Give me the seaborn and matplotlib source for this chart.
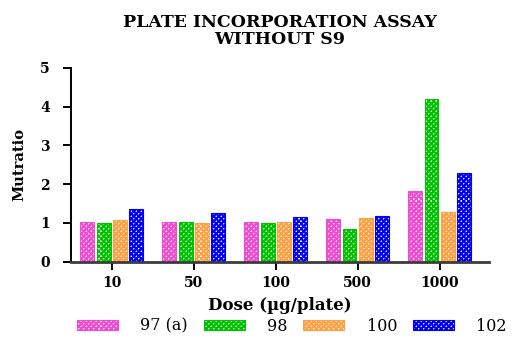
import numpy as np
import pandas as pd
import matplotlib
matplotlib.use("Agg")
import matplotlib.pyplot as plt
import matplotlib.hatch as mhatch
from matplotlib.path import Path
from matplotlib.patches import Patch
import seaborn as sns


# Checkerboard fill used for the bars: '*' characters set the cell count.
class Checker(mhatch.HatchPatternBase):
    filled = True

    def __init__(self, hatch, density):
        self.n = hatch.count('*') * 10
        self.num_vertices = (self.n * self.n // 2) * 5

    def set_vertices_and_codes(self, vertices, codes):
        n = self.n
        step = 1.0 / n
        square = np.array([[0, 0], [1, 0], [1, 1], [0, 1], [0, 0]], float) * step
        sq_codes = [Path.MOVETO, Path.LINETO, Path.LINETO, Path.LINETO, Path.CLOSEPOLY]
        vs, cs = [], []
        for i in range(n):
            for j in range(n):
                if (i + j) % 2 == 0:
                    vs.append(square + [i * step, j * step])
                    cs.extend(sq_codes)
        vertices[:] = np.concatenate(vs)
        codes[:] = cs


mhatch._hatch_types = [t for t in mhatch._hatch_types if t is not mhatch.Stars] + [Checker]

doses = ["10", "50", "100", "500", "1000"]
strains = ["97 (a)", "98", "100", "102"]
ratio_97a = [1.02, 1.03, 1.02, 1.09, 1.83]
ratio_98 = [1.00, 1.02, 1.00, 0.84, 4.20]
ratio_100 = [1.08, 1.00, 1.03, 1.13, 1.28]
ratio_102 = [1.36, 1.26, 1.15, 1.19, 2.28]
colors = ["#F04CD2", "#00C400", "#FFA142", "#0000F5"]

df = pd.DataFrame({
    "dose": doses * 4,
    "strain": np.repeat(strains, len(doses)),
    "ratio": ratio_97a + ratio_98 + ratio_100 + ratio_102,
})

sns.set_style("ticks")
plt.rcParams["font.family"] = ["DejaVu Serif"]
plt.rcParams["hatch.linewidth"] = 0.8
plt.rcParams["text.color"] = "black"
plt.rcParams["axes.labelcolor"] = "black"
plt.rcParams["xtick.color"] = "black"
plt.rcParams["ytick.color"] = "black"

fig = plt.figure(figsize=(5.13, 3.38), dpi=100)
ax = fig.add_axes([0.138, 0.2257, 0.815, 0.5733])

sns.barplot(data=df, x="dose", y="ratio", hue="strain", order=doses,
            hue_order=strains, palette=colors, width=0.8, gap=0.15,
            errorbar=None, legend=False, ax=ax)

for cont, col in zip(ax.containers, colors):
    for bar in cont:
        bar.set_facecolor("white")
        bar.set_edgecolor(col)
        bar.set_linewidth(0.8)
        bar.set_hatch("****")

ax.set_xlim(-0.5, 4.6)
ax.set_ylim(0, 5)
ax.set_yticks([0, 1, 2, 3, 4, 5])
sns.despine(ax=ax)
ax.spines["left"].set_linewidth(1.4)
ax.spines["left"].set_color("black")
ax.spines["bottom"].set_linewidth(2.0)
ax.spines["bottom"].set_color("#3c3c3c")
ax.tick_params(axis="y", length=6, width=1.4, color="black", pad=9)
ax.tick_params(axis="x", length=6, width=1.4, color="black", pad=4)
for lab in ax.get_xticklabels() + ax.get_yticklabels():
    lab.set_fontweight("bold")
    lab.set_fontsize(10)

ax.set_xlabel("Dose (µg/plate)", fontsize=12, fontweight="bold", labelpad=5)
ax.set_ylabel("Mutratio", fontsize=10.5, fontweight="bold", labelpad=10)
ax.set_title("PLATE INCORPORATION ASSAY\nWITHOUT S9", fontsize=12.5,
             fontweight="bold", linespacing=1.0, pad=17)

handles = [Patch(facecolor="white", edgecolor=c, hatch="****", linewidth=0.8)
           for c in colors]
fig.legend(handles, strains, loc="center", bbox_to_anchor=(0.569, 0.035),
           ncol=4, frameon=False, fontsize=11.5, handlelength=2.55,
           handleheight=0.65, handletextpad=1.4, columnspacing=1.0)

fig.savefig("out.png", dpi=100)
